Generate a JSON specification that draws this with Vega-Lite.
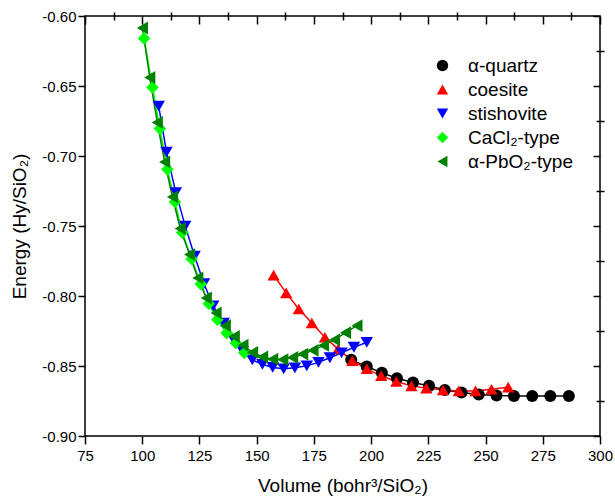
{
  "$schema": "https://vega.github.io/schema/vega-lite/v6.json",
  "width": 515,
  "height": 420,
  "autosize": {"type": "none"},
  "padding": {"left": 85, "top": 16, "right": 15, "bottom": 64},
  "config": {
    "view": {"stroke": "black", "strokeWidth": 1.5},
    "font": "Liberation Sans",
    "axis": {"grid": false, "domain": false, "tickColor": "black", "tickWidth": 1.5, "labelColor": "black", "labelFont": "Liberation Sans", "labelFontSize": 15, "titleFont": "Liberation Sans", "titleFontSize": 19, "titleFontWeight": "normal", "titleColor": "black", "labelOverlap": false, "labelFlush": false}
  },
  "datasets": {
    "pts": [
      {"s": "α-quartz", "v": 191.3, "e": -0.8456},
      {"s": "α-quartz", "v": 198.1, "e": -0.8504},
      {"s": "α-quartz", "v": 204.7, "e": -0.8549},
      {"s": "α-quartz", "v": 211.3, "e": -0.8587},
      {"s": "α-quartz", "v": 218.3, "e": -0.8618},
      {"s": "α-quartz", "v": 225.3, "e": -0.8642},
      {"s": "α-quartz", "v": 232.2, "e": -0.8671},
      {"s": "α-quartz", "v": 239.5, "e": -0.869},
      {"s": "α-quartz", "v": 247.0, "e": -0.8704},
      {"s": "α-quartz", "v": 254.8, "e": -0.8711},
      {"s": "α-quartz", "v": 262.4, "e": -0.8714},
      {"s": "α-quartz", "v": 270.4, "e": -0.8714},
      {"s": "α-quartz", "v": 278.3, "e": -0.8714},
      {"s": "α-quartz", "v": 286.4, "e": -0.8714},
      {"s": "coesite", "v": 157.4, "e": -0.7851},
      {"s": "coesite", "v": 162.9, "e": -0.7978},
      {"s": "coesite", "v": 168.4, "e": -0.8093},
      {"s": "coesite", "v": 174.1, "e": -0.8193},
      {"s": "coesite", "v": 179.8, "e": -0.8295},
      {"s": "coesite", "v": 185.6, "e": -0.8379},
      {"s": "coesite", "v": 191.8, "e": -0.8463},
      {"s": "coesite", "v": 198.1, "e": -0.852},
      {"s": "coesite", "v": 204.4, "e": -0.857},
      {"s": "coesite", "v": 211.0, "e": -0.8611},
      {"s": "coesite", "v": 217.6, "e": -0.8642},
      {"s": "coesite", "v": 224.1, "e": -0.8658},
      {"s": "coesite", "v": 231.4, "e": -0.8671},
      {"s": "coesite", "v": 238.3, "e": -0.8678},
      {"s": "coesite", "v": 245.6, "e": -0.8678},
      {"s": "coesite", "v": 252.6, "e": -0.8666},
      {"s": "coesite", "v": 259.9, "e": -0.8651},
      {"s": "stishovite", "v": 107.2, "e": -0.6644},
      {"s": "stishovite", "v": 110.6, "e": -0.6972},
      {"s": "stishovite", "v": 114.7, "e": -0.7262},
      {"s": "stishovite", "v": 118.8, "e": -0.7501},
      {"s": "stishovite", "v": 122.9, "e": -0.7716},
      {"s": "stishovite", "v": 127.0, "e": -0.7912},
      {"s": "stishovite", "v": 131.0, "e": -0.8071},
      {"s": "stishovite", "v": 135.6, "e": -0.8193},
      {"s": "stishovite", "v": 140.0, "e": -0.8313},
      {"s": "stishovite", "v": 143.9, "e": -0.8396},
      {"s": "stishovite", "v": 148.1, "e": -0.8456},
      {"s": "stishovite", "v": 152.5, "e": -0.8488},
      {"s": "stishovite", "v": 157.0, "e": -0.851},
      {"s": "stishovite", "v": 161.8, "e": -0.852},
      {"s": "stishovite", "v": 166.7, "e": -0.8513},
      {"s": "stishovite", "v": 171.9, "e": -0.8499},
      {"s": "stishovite", "v": 177.0, "e": -0.8474},
      {"s": "stishovite", "v": 182.0, "e": -0.8441},
      {"s": "stishovite", "v": 187.1, "e": -0.8406},
      {"s": "stishovite", "v": 192.5, "e": -0.8366},
      {"s": "stishovite", "v": 198.1, "e": -0.8331},
      {"s": "CaCl₂-type", "v": 100.8, "e": -0.616},
      {"s": "CaCl₂-type", "v": 104.5, "e": -0.651},
      {"s": "CaCl₂-type", "v": 107.7, "e": -0.6804},
      {"s": "CaCl₂-type", "v": 111.0, "e": -0.7095},
      {"s": "CaCl₂-type", "v": 114.3, "e": -0.7328},
      {"s": "CaCl₂-type", "v": 117.5, "e": -0.7547},
      {"s": "CaCl₂-type", "v": 121.6, "e": -0.7736},
      {"s": "CaCl₂-type", "v": 125.6, "e": -0.7915},
      {"s": "CaCl₂-type", "v": 129.1, "e": -0.8055},
      {"s": "CaCl₂-type", "v": 132.8, "e": -0.8169},
      {"s": "CaCl₂-type", "v": 136.9, "e": -0.8265},
      {"s": "CaCl₂-type", "v": 140.9, "e": -0.8336},
      {"s": "CaCl₂-type", "v": 144.6, "e": -0.8406},
      {"s": "α-PbO₂-type", "v": 100.1, "e": -0.6086},
      {"s": "α-PbO₂-type", "v": 103.3, "e": -0.6439},
      {"s": "α-PbO₂-type", "v": 106.6, "e": -0.6761},
      {"s": "α-PbO₂-type", "v": 109.8, "e": -0.7042},
      {"s": "α-PbO₂-type", "v": 113.2, "e": -0.7292},
      {"s": "α-PbO₂-type", "v": 116.6, "e": -0.7518},
      {"s": "α-PbO₂-type", "v": 120.7, "e": -0.7704},
      {"s": "α-PbO₂-type", "v": 124.3, "e": -0.7871},
      {"s": "α-PbO₂-type", "v": 128.0, "e": -0.8014},
      {"s": "α-PbO₂-type", "v": 132.3, "e": -0.8121},
      {"s": "α-PbO₂-type", "v": 136.3, "e": -0.8212},
      {"s": "α-PbO₂-type", "v": 140.2, "e": -0.8289},
      {"s": "α-PbO₂-type", "v": 144.0, "e": -0.8352},
      {"s": "α-PbO₂-type", "v": 148.2, "e": -0.8403},
      {"s": "α-PbO₂-type", "v": 152.6, "e": -0.8436},
      {"s": "α-PbO₂-type", "v": 157.0, "e": -0.8451},
      {"s": "α-PbO₂-type", "v": 161.4, "e": -0.8454},
      {"s": "α-PbO₂-type", "v": 165.7, "e": -0.8439},
      {"s": "α-PbO₂-type", "v": 170.1, "e": -0.8415},
      {"s": "α-PbO₂-type", "v": 174.6, "e": -0.8388},
      {"s": "α-PbO₂-type", "v": 179.2, "e": -0.8353},
      {"s": "α-PbO₂-type", "v": 184.0, "e": -0.8313},
      {"s": "α-PbO₂-type", "v": 188.8, "e": -0.8262},
      {"s": "α-PbO₂-type", "v": 193.8, "e": -0.8212}
    ]
  },
  "data": {"name": "pts"},
  "layer": [
    {
      "mark": {"type": "line", "strokeWidth": 1.5},
      "encoding": {
        "x": {"field": "v", "type": "quantitative", "scale": {"domain": [75, 300], "nice": false, "zero": false},
          "axis": {"values": [75, 100, 125, 150, 175, 200, 225, 250, 275, 300], "tickSize": 8, "labelPadding": 4, "title": "Volume (bohr³/SiO₂)", "titleX": 257.5, "titleY": 55, "titleBaseline": "alphabetic", "titleAlign": "center"}},
        "y": {"field": "e", "type": "quantitative", "scale": {"domain": [-0.9, -0.6], "nice": false, "zero": false},
          "axis": {"values": [-0.9, -0.85, -0.8, -0.75, -0.7, -0.65, -0.6], "labelExpr": "replace(format(datum.value, '.2f'), '−', '-')", "tickSize": 7, "labelPadding": 2, "title": "Energy (Hy/SiO₂)", "titleX": -60, "titleY": 210, "titleAngle": 270, "titleBaseline": "alphabetic", "titleAlign": "center"}},
        "stroke": {"field": "s", "type": "nominal", "scale": {"domain": ["α-PbO₂-type", "CaCl₂-type", "stishovite", "coesite", "α-quartz"], "range": ["#008000", "#00FF00", "#0000FF", "#FF0000", "#000000"]}, "legend": null}
      }
    },
    {
      "mark": {"type": "point", "filled": true, "opacity": 1, "strokeWidth": 0},
      "encoding": {
        "x": {"field": "v", "type": "quantitative", "axis": {"values": [87.5, 112.5, 137.5, 162.5, 187.5, 212.5, 237.5, 262.5, 287.5], "labels": false, "title": null, "tickSize": 4}},
        "y": {"field": "e", "type": "quantitative", "axis": {"values": [-0.875, -0.825, -0.775, -0.725, -0.675, -0.625], "labels": false, "title": null, "tickSize": 4}},
        "color": {"field": "s", "type": "nominal", "scale": {"domain": ["α-quartz", "coesite", "stishovite", "CaCl₂-type", "α-PbO₂-type"], "range": ["#000000", "#FF0000", "#0000FF", "#00FF00", "#008000"]},
          "legend": {"title": null, "orient": "none", "legendX": 348, "legendY": 40, "labelFont": "Liberation Sans", "labelFontSize": 19, "labelColor": "black", "symbolSize": 130, "symbolStrokeWidth": 0, "symbolOpacity": 1, "rowPadding": 4, "labelOffset": 16, "padding": 0}},
        "shape": {"field": "s", "type": "nominal", "scale": {"domain": ["α-quartz", "coesite", "stishovite", "CaCl₂-type", "α-PbO₂-type"], "range": ["circle", "triangle-up", "triangle-down", "diamond", "triangle-left"]}},
        "size": {"field": "s", "type": "nominal", "scale": {"domain": ["α-PbO₂-type", "CaCl₂-type", "stishovite", "coesite", "α-quartz"], "range": [165, 145, 165, 165, 100]}, "legend": null}
      }
    },
    {
      "mark": {"type": "point", "opacity": 0},
      "encoding": {
        "x": {"field": "v", "type": "quantitative", "axis": {"orient": "bottom", "offset": -420, "values": [75, 100, 125, 150, 175, 200, 225, 250, 275, 300], "labels": false, "title": null, "tickSize": 8}},
        "y": {"field": "e", "type": "quantitative", "axis": {"orient": "left", "offset": -515, "values": [-0.9, -0.85, -0.8, -0.75, -0.7, -0.65, -0.6], "labels": false, "title": null, "tickSize": 7}}
      }
    },
    {
      "mark": {"type": "point", "opacity": 0},
      "encoding": {
        "x": {"field": "v", "type": "quantitative", "axis": {"orient": "bottom", "offset": -420, "values": [87.5, 112.5, 137.5, 162.5, 187.5, 212.5, 237.5, 262.5, 287.5], "labels": false, "title": null, "tickSize": 4}},
        "y": {"field": "e", "type": "quantitative", "axis": {"orient": "left", "offset": -515, "values": [-0.875, -0.825, -0.775, -0.725, -0.675, -0.625], "labels": false, "title": null, "tickSize": 4}}
      }
    }
  ],
  "resolve": {"axis": {"x": "independent", "y": "independent"}}
}
